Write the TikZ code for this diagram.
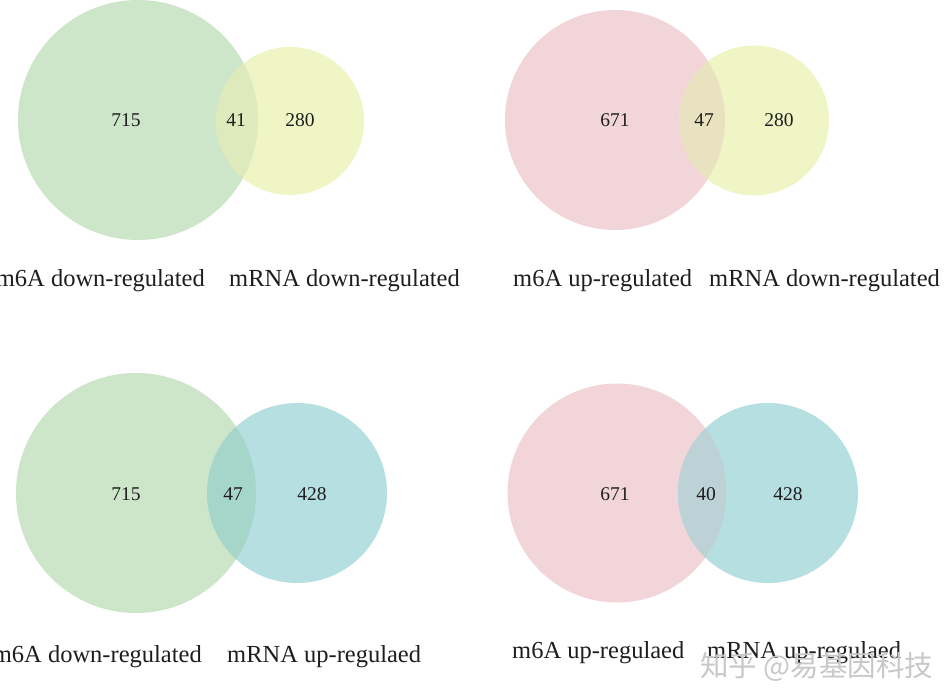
\documentclass[tikz,border=0pt]{standalone}
\usepackage{fontspec}
\setmainfont{Liberation Serif}
\newfontfamily\cjkfont{Noto Sans CJK SC}
\definecolor{cgreen}{RGB}{205,230,201}
\definecolor{cyellow}{RGB}{240,245,198}
\definecolor{cpink}{RGB}{242,213,217}
\definecolor{cblue}{RGB}{182,223,225}
\definecolor{ogy}{RGB}{222,234,188}
\definecolor{opy}{RGB}{233,226,192}
\definecolor{ogb}{RGB}{166,213,202}
\definecolor{opb}{RGB}{188,210,214}
\definecolor{ctext}{RGB}{30,30,30}
\definecolor{cwm}{RGB}{200,200,200}
\tikzset{
  numlbl/.style={font=\fontsize{19.5}{22}\selectfont, text=ctext, inner sep=0pt},
  setlbl/.style={font=\fontsize{24.5}{28}\selectfont, text=ctext, inner sep=0pt},
  vset/.style={circle, inner sep=0pt, draw=none},
}
\begin{document}
\begin{tikzpicture}[x=1pt,y=-1pt]
\useasboundingbox (0,0) rectangle (950,692);
\fill[white] (0,0) rectangle (950,692);
% ---------- top left ----------
\node[vset, fill=cgreen, minimum size=240] (g1) at (138,120) {};
\node[vset, fill=cyellow, minimum size=148] (y1) at (290,121) {};
\begin{scope}\clip (138,120) circle (120); \fill[ogy] (290,121) circle (74); \end{scope}
\node[numlbl] (n1a) at (126,120) {715};
\node[numlbl] (n1b) at (236,120) {41};
\node[numlbl] (n1c) at (300,120) {280};
\node[setlbl, anchor=base east] (l1a) at (205,287) {m6A down-regulated};
\node[setlbl, anchor=base west] (l1b) at (229,287) {mRNA down-regulated};
% ---------- top right ----------
\node[vset, fill=cpink, minimum size=220] (p2) at (615,120) {};
\node[vset, fill=cyellow, minimum size=150] (y2) at (754,120.5) {};
\begin{scope}\clip (615,120) circle (110); \fill[opy] (754,120.5) circle (75); \end{scope}
\node[numlbl] (n2a) at (615,120) {671};
\node[numlbl] (n2b) at (704,120) {47};
\node[numlbl] (n2c) at (779,120) {280};
\node[setlbl, anchor=base west] (l2a) at (513,287) {m6A up-regulated};
\node[setlbl, anchor=base west] (l2b) at (709,287) {mRNA down-regulated};
% ---------- bottom left ----------
\node[vset, fill=cgreen, minimum size=240] (g3) at (136,493) {};
\node[vset, fill=cblue, minimum size=180] (b3) at (297,493) {};
\begin{scope}\clip (136,493) circle (120); \fill[ogb] (297,493) circle (90); \end{scope}
\node[numlbl] (n3a) at (126,494) {715};
\node[numlbl] (n3b) at (233,494) {47};
\node[numlbl] (n3c) at (312,494) {428};
\node[setlbl, anchor=base east] (l3a) at (202,662) {m6A down-regulated};
\node[setlbl, anchor=base west] (l3b) at (227,662) {mRNA up-regulaed};
% ---------- bottom right ----------
\node[vset, fill=cpink, minimum size=219] (p4) at (617,493) {};
\node[vset, fill=cblue, minimum size=180] (b4) at (768,493) {};
\begin{scope}\clip (617,493) circle (109.5); \fill[opb] (768,493) circle (90); \end{scope}
\node[numlbl] (n4a) at (615,494) {671};
\node[numlbl] (n4b) at (706,494) {40};
\node[numlbl] (n4c) at (788,494) {428};
\node[setlbl, anchor=base west] (l4a) at (512,658) {m6A up-regulaed};
\node[setlbl, anchor=base west] (l4b) at (707,658) {mRNA up-regulaed};
% ---------- watermark ----------
\node[anchor=west, inner sep=0pt, text=cwm, font=\cjkfont\fontsize{28.5}{32}\selectfont] (wm) at (700,667) {知乎 @易基因科技};
\end{tikzpicture}
\end{document}
